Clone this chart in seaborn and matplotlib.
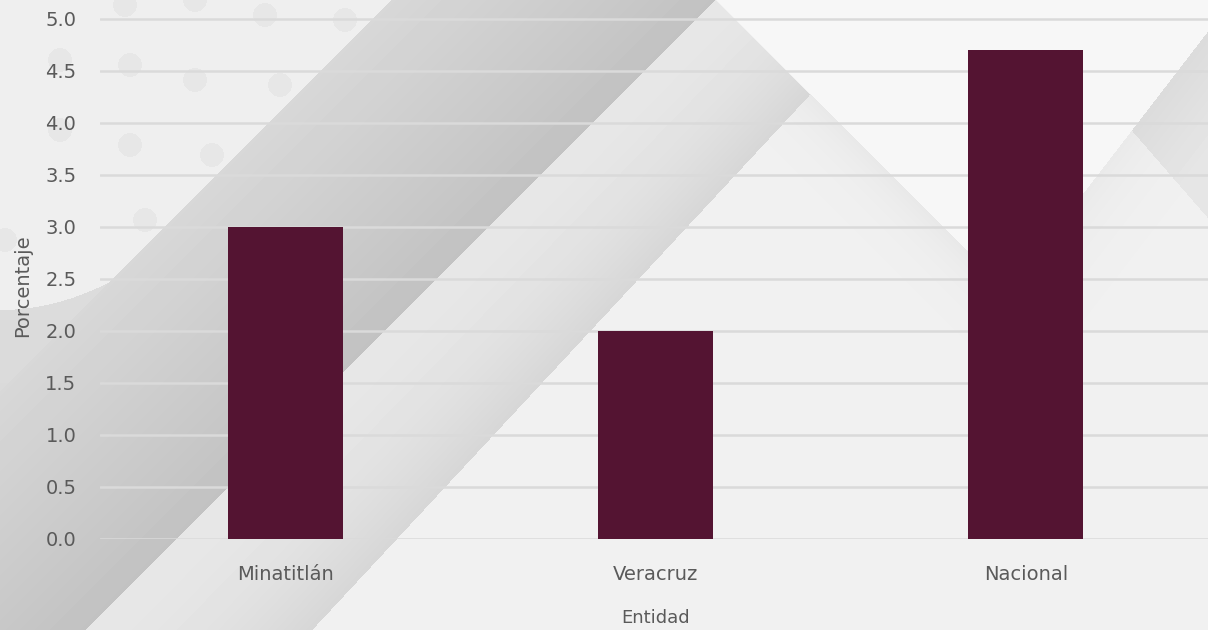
import numpy as np
import pandas as pd
import matplotlib.pyplot as plt
import seaborn as sns

# datos
entidades = ["Minatitlán", "Veracruz", "Nacional"]
porcentajes = [3.0, 2.0, 4.7]
y_ticks = [0.0, 0.5, 1.0, 1.5, 2.0, 2.5, 3.0, 3.5, 4.0, 4.5, 5.0]

df = pd.DataFrame({"Entidad": entidades, "Porcentaje": porcentajes})

sns.set_style("white")
plt.rcParams['font.family'] = ['DejaVu Sans']

W, H = 1208, 630
fig = plt.figure(figsize=(W / 100, H / 100), dpi=100)
fig.patch.set_facecolor("#f1f1f1")

# fondo decorativo: franjas diagonales en gris (coordenadas en pixeles)
xx, yy = np.meshgrid(np.arange(W) + 0.5, np.arange(H) + 0.5)
s = xx + yy
img = np.full((H, W), 0.945)

curva = np.where(xx < 123, 310 - 35 * (xx / 123) ** 2, 1e9)
claro = (yy < 392 - xx) & (yy < curva)
img[claro] = 0.935
franja = (s < 716) & ~claro
t = np.clip((s - 392) / (716 - 392), 0, 1)
img[franja] = (0.845 - 0.085 * t)[franja]
abajo = franja & (s < 392)
img[abajo] = (0.86 - 0.02 * np.clip((yy - 310) / 320, 0, 1))[abajo]

s2 = 905 + (yy - 96) * 0.07
media = (s >= 716) & (s < s2) & (yy > xx - 716)
t2 = np.clip((s - 716) / (s2 - 716), 0, 1)
img[media] = (0.905 - 0.065 * t2 ** 2)[media]

# lado derecho de la "montaña" y franja derecha
g = 250 - np.clip(xx - 1040, 0, None) * 1.3
arriba = (yy < xx - 716) & (yy < g)
img[arriba] = 0.968
sombra = (xx > 1040) & (yy >= g) & (yy < 140 + (xx - 1140) * 1.15)
img[sombra] = (0.86 + 0.04 * np.clip((yy - g) / 120, 0, 1))[sombra]
sombra3 = (xx > 1040) & (yy >= g) & ~sombra
img[sombra3] = (0.945 - 0.03 * np.exp(-(yy - g) / 60))[sombra3]
sombra2 = (yy >= xx - 716) & (s >= s2) & (xx < 1000)
img[sombra2] = (0.945 - 0.035 * np.exp(-(yy - (xx - 716)) / 40))[sombra2]

for cx, cy in [(130, 65), (195, 80), (265, 15), (345, 20), (280, 85), (130, 145),
               (212, 155), (145, 220), (60, 130), (125, 5), (195, 0), (60, 60),
               (5, 240)]:
    d = (xx - cx) ** 2 + (yy - cy) ** 2 < 12 ** 2
    img[d & claro] = 0.905

bg = fig.add_axes([0, 0, 1, 1], zorder=-5)
bg.imshow(img, cmap="gray", vmin=0, vmax=1, extent=(0, W, H, 0), aspect="auto",
          interpolation="bilinear")
bg.axis("off")

ax = fig.add_axes([100 / W, 91 / H, 1111 / W, 539 / H])
ax.set_facecolor("none")

sns.barplot(data=df, x="Entidad", y="Porcentaje", color="#541432", saturation=1,
            width=0.31, linewidth=0, edgecolor="none", ax=ax, zorder=3)

ax.set_xlim(-0.5, 2.5)
ax.set_ylim(0, 539 / 104)
ax.set_yticks(y_ticks)
ax.set_yticklabels([f"{v:.1f}" for v in y_ticks])
ax.yaxis.grid(True, color="#dadada", linewidth=1.8, zorder=1)
ax.set_axisbelow(True)
sns.despine(ax=ax, left=True, bottom=True, top=True, right=True)

ax.tick_params(axis="y", length=0, pad=17, labelsize=14, labelcolor="#5a5a5a")
ax.tick_params(axis="x", length=0, pad=19, labelsize=14, labelcolor="#5a5a5a")
ax.set_xlabel("Entidad", fontsize=13, color="#5a5a5a", labelpad=18)
ax.set_ylabel("Porcentaje", fontsize=14, color="#5a5a5a")
ax.yaxis.set_label_coords(-0.061, 0.47)

fig.savefig("out.png", dpi=100, facecolor=fig.get_facecolor())
